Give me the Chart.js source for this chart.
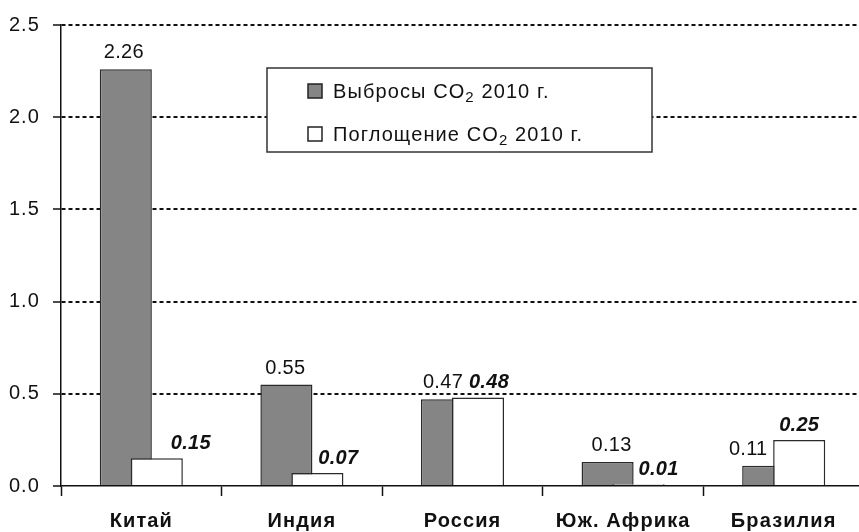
<!DOCTYPE html>
<html lang="ru">
<head>
<meta charset="utf-8">
<title>Выбросы и поглощение CO2</title>
<script src="https://cdn.jsdelivr.net/npm/chart.js@4.4.0/dist/chart.umd.min.js"></script>
<style>
    html, body { margin: 0; padding: 0; background: #fff; overflow: hidden; }
    #wrap { width: 866px; height: 532px; }
</style>
</head>
<body>
<div id="wrap"><canvas id="co2Chart" width="866" height="532"></canvas></div>
<script>
const categories = ['Китай', 'Индия', 'Россия', 'Юж. Африка', 'Бразилия'];
const emissions = [2.26, 0.55, 0.47, 0.13, 0.11];
const absorption = [0.15, 0.07, 0.48, 0.01, 0.25];
const yTicks = [0, 0.5, 1.0, 1.5, 2.0, 2.5];
const seriesNames = [
    ['Выбросы CO', '2', ' 2010 г.'],
    ['Поглощение CO', '2', ' 2010 г.']
];

const INK = '#111';
const FONT = 'Arial, "Liberation Sans", sans-serif';

// small hand nudges of the value labels, as in the source figure
const labelNudge = [
    [-2, -1, -4, 4, -20],
    [34, 21, 11, 20, 0]
];

// the scanned figure uses a wide typeface, so open up the letters a little
const wideText = {
    id: 'wideText',
    beforeDraw(chart) {
        chart.ctx.letterSpacing = '1.1px';
    }
};

// Chart.js paints the first dataset on top; here the second one must overlap the first
const backFirst = {
    id: 'backFirst',
    beforeDatasetsDraw(chart) {
        chart.getDatasetMeta(0).controller.draw();
    },
    beforeDatasetDraw(chart, args) {
        if (args.index === 0) return false;
    }
};

const valueLabels = {
    id: 'valueLabels',
    afterDatasetsDraw(chart) {
        const ctx = chart.ctx;
        ctx.save();
        ctx.letterSpacing = '0.3px';
        ctx.fillStyle = INK;
        ctx.textAlign = 'center';
        ctx.textBaseline = 'alphabetic';
        chart.data.datasets.forEach((ds, di) => {
            const meta = chart.getDatasetMeta(di);
            ctx.font = di === 0 ? `20px ${FONT}` : `italic bold 20px ${FONT}`;
            meta.data.forEach((bar, i) => {
                const txt = ds.data[i].toFixed(2);
                ctx.fillText(txt, bar.x + labelNudge[di][i], bar.y - (di === 0 ? 11 : 9));
            });
        });
        ctx.restore();
    }
};

function drawRich(ctx, parts, x, y) {
    const [main, sub, tail] = parts;
    ctx.font = `20px ${FONT}`;
    ctx.fillText(main, x, y);
    x += ctx.measureText(main).width;
    ctx.font = `15px ${FONT}`;
    ctx.fillText(sub, x, y + 6);
    x += ctx.measureText(sub).width;
    ctx.font = `20px ${FONT}`;
    ctx.fillText(tail, x, y);
}

const boxLegend = {
    id: 'boxLegend',
    afterDraw(chart) {
        const ctx = chart.ctx;
        ctx.save();
        ctx.fillStyle = '#fff';
        ctx.fillRect(267, 68, 385, 84);
        ctx.strokeStyle = '#333';
        ctx.lineWidth = 1.5;
        ctx.strokeRect(267, 68, 385, 84);
        const rows = [91, 134];
        chart.data.datasets.forEach((ds, di) => {
            ctx.fillStyle = ds.backgroundColor;
            ctx.fillRect(308, rows[di] - 7, 14, 14);
            ctx.strokeStyle = '#222';
            ctx.lineWidth = 1.5;
            ctx.strokeRect(308, rows[di] - 7, 14, 14);
            ctx.fillStyle = INK;
            ctx.textBaseline = 'middle';
            drawRich(ctx, seriesNames[di], 333, rows[di] + 1);
        });
        ctx.restore();
    }
};

new Chart(document.getElementById('co2Chart'), {
    type: 'bar',
    data: {
        labels: categories,
        datasets: [{
            label: seriesNames[0].join(''),
            data: emissions,
            backgroundColor: '#858585',
            borderColor: '#2a2a2a',
            borderWidth: 1.5,
            barPercentage: 1.68,
            categoryPercentage: 0.386
        }, {
            label: seriesNames[1].join(''),
            data: absorption,
            backgroundColor: '#ffffff',
            borderColor: '#2a2a2a',
            borderWidth: 1.5,
            barPercentage: 1.68,
            categoryPercentage: 0.386
        }]
    },
    options: {
        responsive: false,
        animation: false,
        devicePixelRatio: 1,
        layout: { padding: { top: 23, right: 2, left: 0, bottom: 0 } },
        plugins: {
            legend: { display: false },
            tooltip: { enabled: false }
        },
        scales: {
            x: {
                grid: {
                    offset: true,
                    drawOnChartArea: false,
                    drawTicks: true,
                    tickLength: 10,
                    tickColor: INK,
                    tickWidth: 1.5
                },
                border: { display: true, color: INK, width: 1.5 },
                ticks: {
                    color: INK,
                    padding: 13,
                    font: { family: FONT, size: 20, weight: 'bold' }
                },
                afterFit: axis => { axis.height = 46; }
            },
            y: {
                min: 0,
                max: 2.5,
                afterBuildTicks: axis => { axis.ticks = yTicks.map(v => ({ value: v })); },
                grid: {
                    color: ctx => ctx.tick && ctx.tick.value === 0 ? 'rgba(0,0,0,0)' : INK,
                    lineWidth: 2,
                    drawTicks: true,
                    tickLength: 8,
                    tickColor: INK,
                    tickWidth: 1.5,
                    tickBorderDash: []
                },
                border: { display: true, color: INK, width: 1.5, dash: [4, 3] },
                ticks: {
                    color: INK,
                    padding: 13,
                    font: { family: FONT, size: 20 },
                    callback: v => Number(v).toFixed(1)
                },
                afterFit: axis => { axis.width = 61; }
            }
        }
    },
    plugins: [wideText, backFirst, valueLabels, boxLegend]
});
</script>
</body>
</html>
